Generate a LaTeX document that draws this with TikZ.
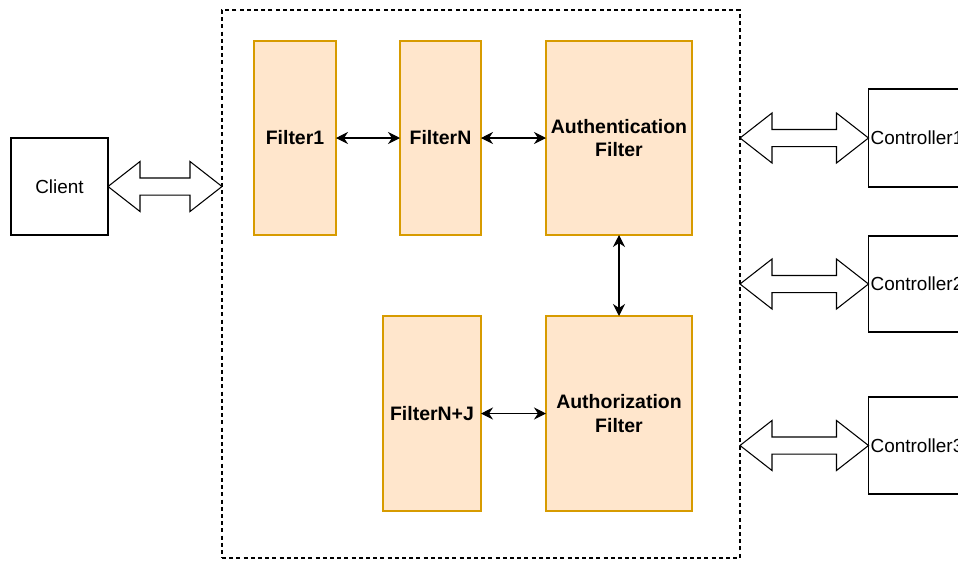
\documentclass[tikz,border=0pt]{standalone}
\usepackage{fontspec}
\setmainfont{Liberation Sans}
\usetikzlibrary{arrows.meta,calc}

\definecolor{filterfill}{HTML}{FFE6CC}
\definecolor{filterline}{HTML}{D79B00}

\tikzset{
  box/.style={draw=black, line width=0.8pt, fill=white, inner sep=0pt, outer sep=0pt,
    font=\fontsize{14.2}{17}\selectfont, align=center},
  filterbox/.style={box, draw=filterline, fill=filterfill, line width=1pt,
    font=\fontsize{14.6}{17.4}\selectfont\bfseries},
  gateway/.style={draw=black, line width=0.8pt, dash pattern=on 3pt off 2.4pt,
    inner sep=0pt, outer sep=0pt},
  link/.style={line width=0.8pt, {Stealth[length=9pt,width=9pt,inset=3pt]}-{Stealth[length=9pt,width=9pt,inset=3pt]}},
  fatarrow/.style={draw=black, line width=0.8pt, fill=white, line join=miter}
}

% wide two-headed arrow between two points on the same height
\newcommand\widearrow[2]{%
  \path[fatarrow] let \p1=(#1), \p2=(#2) in
    (\x1,\y1) -- (\x1+24pt,\y1+18.75pt) -- (\x1+24pt,\y1+6.4pt)
    -- (\x2-24pt,\y1+6.4pt) -- (\x2-24pt,\y1+18.75pt) -- (\x2,\y1)
    -- (\x2-24pt,\y1-18.75pt) -- (\x2-24pt,\y1-6.4pt)
    -- (\x1+24pt,\y1-6.4pt) -- (\x1+24pt,\y1-18.75pt) -- cycle;}

\begin{document}
\begin{tikzpicture}[x=0.75pt, y=-0.75pt]
  \useasboundingbox (0,0) rectangle (958,561);
  \clip (0,0) rectangle (958,561);

  % API gateway boundary
  \node[gateway, minimum width=388.5pt, minimum height=411pt] (gw) at (481,284) {};

  % client side
  \node[box, minimum width=72.75pt, minimum height=72.75pt] (client) at (59.5,186.5) {Client};

  % filter chain
  \node[filterbox, minimum width=61.5pt, minimum height=145.5pt] (f1) at (295,138) {Filter1};
  \node[filterbox, minimum width=60.75pt, minimum height=145.5pt] (fn) at (440.5,138) {FilterN};
  \node[filterbox, minimum width=109.5pt, minimum height=145.5pt] (authn) at (619,138) {Authentication\\Filter};
  \node[filterbox, minimum width=73.5pt, minimum height=146.25pt] (fnj) at (432,413.5) {FilterN+J};
  \node[filterbox, minimum width=109.5pt, minimum height=146.25pt] (authz) at (619,413.5) {Authorization\\Filter};

  % controllers (they run past the right edge)
  \node[box, minimum width=72.75pt, minimum height=73.5pt] (c1) at (917,138) {Controller1};
  \node[box, minimum width=72.75pt, minimum height=72pt] (c2) at (917,284) {Controller2};
  \node[box, minimum width=72.75pt, minimum height=72.75pt] (c3) at (917,445.5) {Controller3};

  % links inside the gateway
  \draw[link] (f1.east) -- (fn.west);
  \draw[link] (fn.east) -- (authn.west);
  \draw[link] (authn.south) -- (authz.north);
  \draw[link] (fnj.east) -- (authz.west);

  % wide arrows to the outside
  \widearrow{client.east}{client.east -| gw.west}
  \widearrow{gw.east |- c1.west}{c1.west}
  \widearrow{gw.east |- c2.west}{c2.west}
  \widearrow{gw.east |- c3.west}{c3.west}
\end{tikzpicture}
\end{document}
